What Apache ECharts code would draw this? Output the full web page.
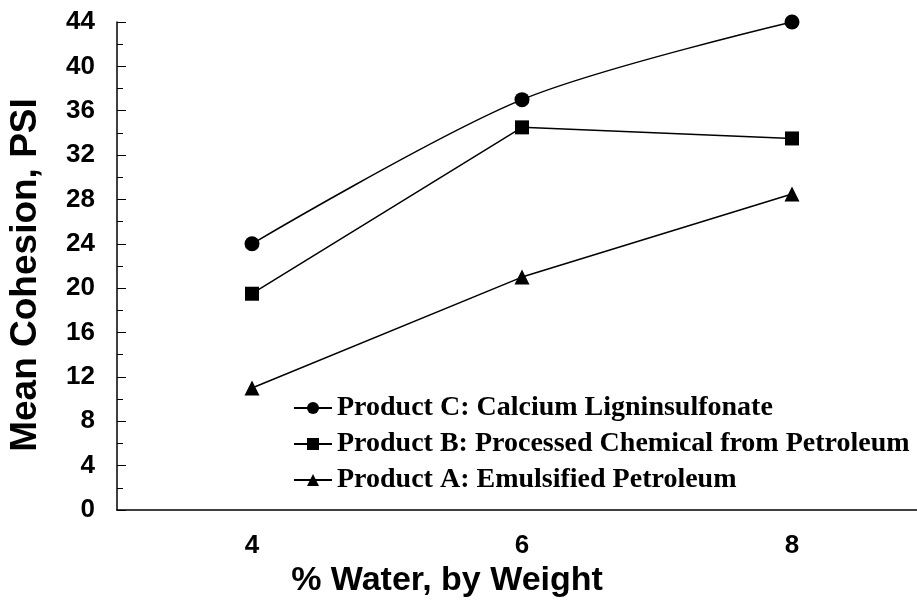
<!DOCTYPE html>
<html>
<head>
<meta charset="utf-8">
<script src="https://cdn.jsdelivr.net/npm/echarts@6/dist/echarts.min.js"></script>
<style>
  html, body { margin: 0; padding: 0; background: #fff; }
  #chart { width: 917px; height: 600px; }
</style>
</head>
<body>
<div id="chart"></div>
<script>
const categories = ["4", "6", "8"];
const productC = [24, 37, 44];
const productB = [19.5, 34.5, 33.5];
const productA = [11, 21, 28.5];

const chart = echarts.init(document.getElementById("chart"));

const lineSeries = (name, data, symbol, size, smooth) => ({
  name: name,
  type: "line",
  data: data,
  symbol: symbol,
  symbolSize: size,
  smooth: smooth,
  lineStyle: { color: "#000", width: 1.5 },
  itemStyle: { color: "#000" },
});

chart.setOption({
  animation: false,
  grid: { left: 117, top: 22, width: 810, bottom: 90, outerBoundsMode: "none" },
  legend: {
    left: 288,
    top: 389,
    orient: "vertical",
    itemGap: 8,
    itemWidth: 38,
    itemHeight: 15,
    textStyle: {
      fontFamily: "Liberation Serif",
      fontWeight: "bold",
      fontSize: 28,
      color: "#000",
    },
    data: [
      "Product C: Calcium Ligninsulfonate",
      "Product B: Processed Chemical from Petroleum",
      "Product A: Emulsified Petroleum",
    ],
  },
  xAxis: {
    type: "category",
    data: categories,
    boundaryGap: true,
    name: "% Water, by Weight",
    nameLocation: "middle",
    nameGap: 52,
    nameTextStyle: {
      fontFamily: "Liberation Sans",
      fontWeight: "bold",
      fontSize: 34,
      color: "#000",
      padding: [0, 0, 0, -150],
    },
    axisLine: { lineStyle: { color: "#000", width: 1.5 } },
    axisTick: { inside: false, length: 9, lineStyle: { color: "#000" } },
    axisLabel: {
      margin: 23,
      fontFamily: "Liberation Sans",
      fontWeight: "bold",
      fontSize: 26,
      color: "#000",
    },
  },
  yAxis: {
    type: "value",
    min: 0,
    max: 44,
    interval: 4,
    name: "Mean Cohesion, PSI",
    nameLocation: "middle",
    nameGap: 73,
    nameTextStyle: {
      fontFamily: "Liberation Sans",
      fontWeight: "bold",
      fontSize: 37,
      color: "#000",
      padding: [0, 18, 0, 0],
    },
    axisLine: { show: true, lineStyle: { color: "#000", width: 1.5 } },
    axisTick: { show: true, inside: true, length: 9, lineStyle: { color: "#000" } },
    minorTick: { show: true, splitNumber: 2, length: 6, lineStyle: { color: "#000" } },
    splitLine: { show: false },
    axisLabel: {
      margin: 22,
      fontFamily: "Liberation Sans",
      fontWeight: "bold",
      fontSize: 26,
      color: "#000",
    },
  },
  series: [
    lineSeries("Product C: Calcium Ligninsulfonate", productC, "circle", 15, 0.3),
    lineSeries("Product B: Processed Chemical from Petroleum", productB, "rect", 14, false),
    lineSeries("Product A: Emulsified Petroleum", productA, "triangle", 15, false),
  ],
});
</script>
</body>
</html>
